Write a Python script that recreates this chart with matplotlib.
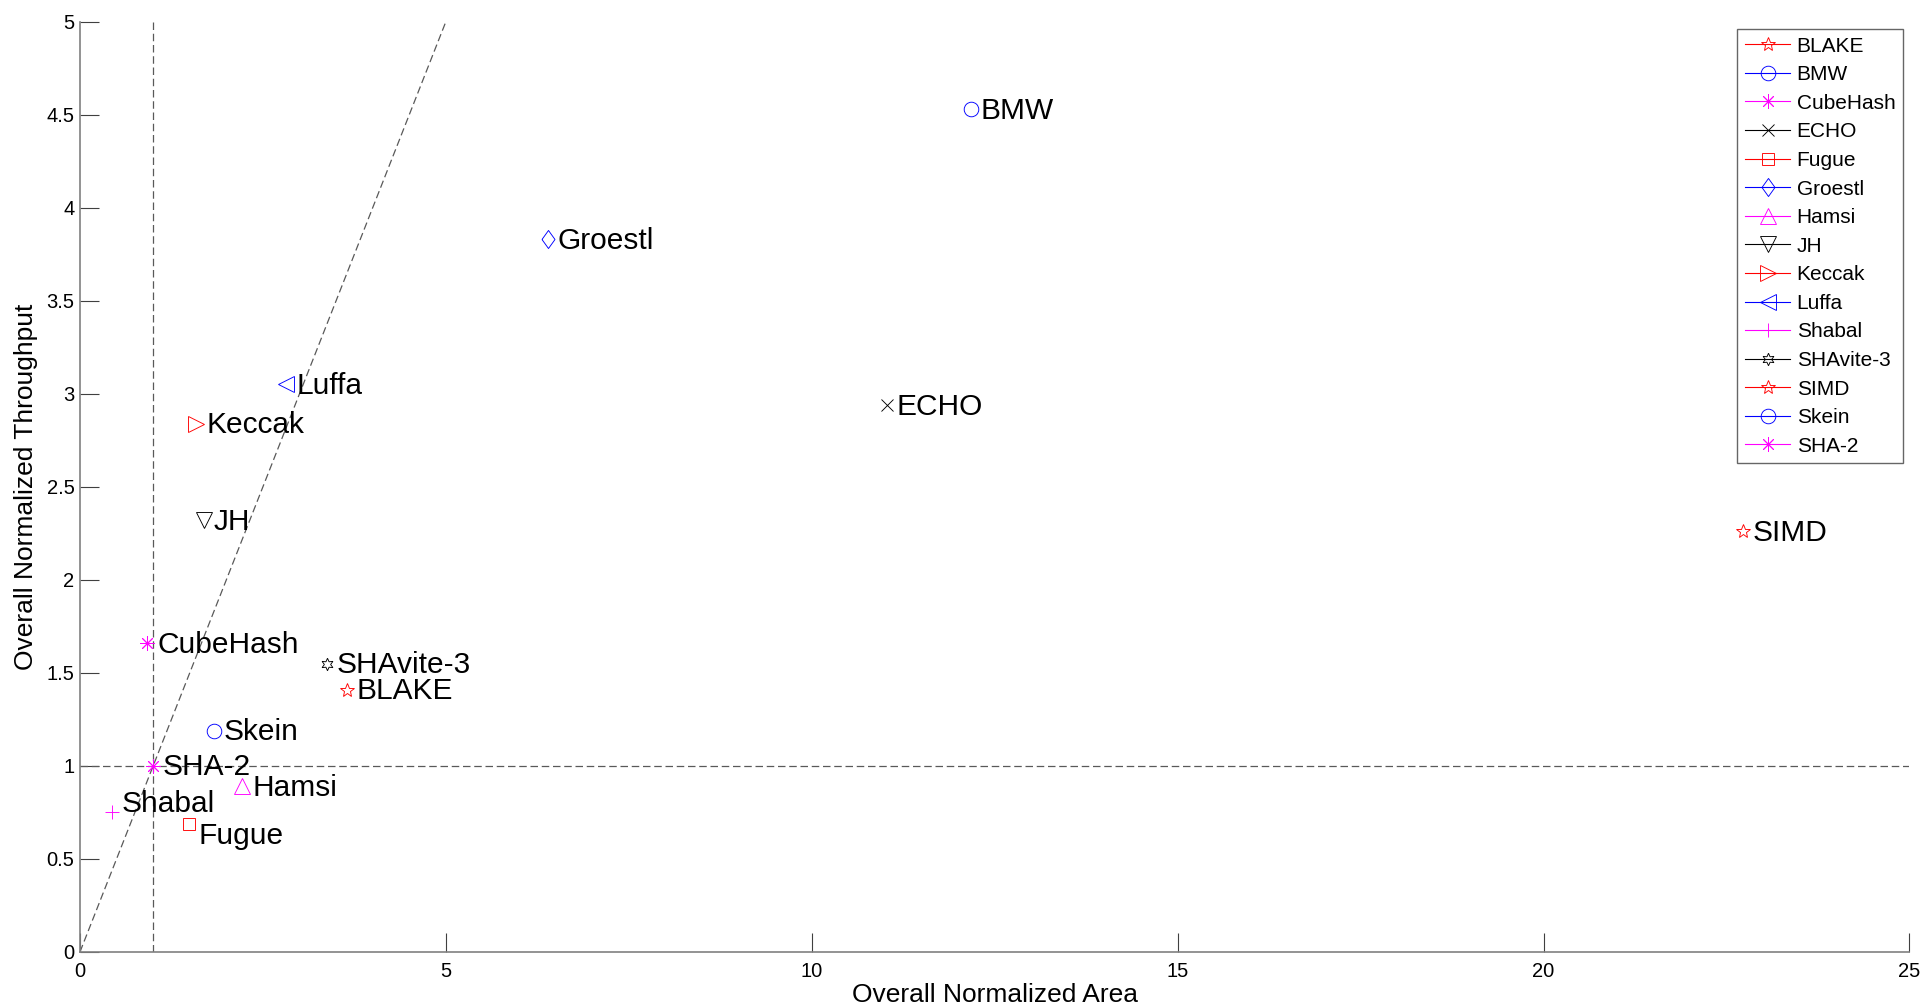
import matplotlib.pyplot as plt
from matplotlib.ticker import FormatStrFormatter

plt.rcParams["font.family"] = ["Liberation Sans", "DejaVu Sans"]

names = ["BLAKE", "BMW", "CubeHash", "ECHO", "Fugue", "Groestl", "Hamsi", "JH",
         "Keccak", "Luffa", "Shabal", "SHAvite-3", "SIMD", "Skein", "SHA-2"]
area = [3.65, 12.17, 0.92, 11.03, 1.49, 6.39, 2.22, 1.69,
        1.59, 2.82, 0.44, 3.37, 22.73, 1.83, 1.00]
throughput = [1.41, 4.53, 1.66, 2.94, 0.69, 3.83, 0.89, 2.32,
              2.84, 3.05, 0.75, 1.55, 2.26, 1.19, 1.00]

# matlab-ish marker set, colours cycle r, b, m, k
diamond = [(-0.72, 0), (0, 1), (0.72, 0), (0, -1), (-0.72, 0)]
markers = ["*", "o", (8, 2, 0), "x", "s", diamond, "^", "v",
           ">", "<", "+", (6, 1, 0), "*", "o", (8, 2, 0)]
sizes = [10.5, 10.5, 10.3, 8.6, 8.6, 13, 12, 11,
         11, 11, 10.3, 9, 10.5, 10.5, 10.3]
colors = ["red", "blue", "magenta", "black"] * 4

# label nudges in points (dx, dy) for the baseline
nudge = {"Shabal": (7, 0), "Fugue": (7, -14.5)}

fig = plt.figure(figsize=(19.27, 10.08), dpi=100)
ax = fig.add_axes([0.0415, 0.0556, 0.9494, 0.9229])

ref = dict(color="0.35", lw=0.9, ls="--", dashes=(6, 3))
ax.plot([0, 5], [0, 5], **ref)
ax.axvline(1, **ref)
ax.axhline(1, **ref)

for i, n in enumerate(names):
    ax.plot([area[i]], [throughput[i]], marker=markers[i], ms=sizes[i],
            color=colors[i], mfc="none", mew=0.65, lw=0.8, ls="-", label=n)
    dx, dy = nudge.get(n, (7, -6.9))
    ax.annotate(n, (area[i], throughput[i]), xytext=(dx, dy),
                textcoords="offset points", fontsize=21.5, va="baseline", ha="left")

ax.set_xlim(0, 25)
ax.set_ylim(0, 5)
ax.set_xticks([0, 5, 10, 15, 20, 25])
ax.set_yticks([0, 0.5, 1, 1.5, 2, 2.5, 3, 3.5, 4, 4.5, 5])
ax.yaxis.set_major_formatter(FormatStrFormatter("%g"))
ax.tick_params(direction="in", length=13.5, width=0.8, color="0.25",
               labelsize=14.5, pad=4)
ax.tick_params(axis="x", pad=7)
for s in ["top", "right"]:
    ax.spines[s].set_visible(False)
for s in ["left", "bottom"]:
    ax.spines[s].set_color("0.5")
    ax.spines[s].set_linewidth(1.2)

ax.set_xlabel("Overall Normalized Area", fontsize=19, labelpad=2)
ax.set_ylabel("Overall Normalized Throughput", fontsize=19, labelpad=6)

leg = ax.legend(loc="upper right", bbox_to_anchor=(0.9874, 0.9709),
                bbox_transform=fig.transFigure, borderaxespad=0, fontsize=15,
                numpoints=1, fancybox=False, framealpha=1, labelspacing=0.46,
                borderpad=0.35, handlelength=2.2, handletextpad=0.3)
leg.get_frame().set_edgecolor("0.4")
leg.get_frame().set_linewidth(1.0)

plt.savefig("out.png", dpi=100)
